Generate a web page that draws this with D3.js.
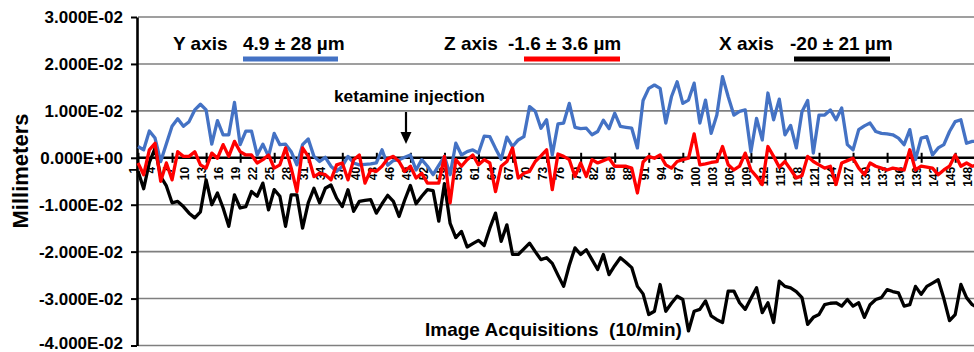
<!DOCTYPE html>
<html>
<head>
<meta charset="utf-8">
<script src="https://cdn.jsdelivr.net/npm/d3@7"></script>
<style>
  body { margin: 0; background: #fff; }
  svg { display: block; font-family: 'Liberation Sans', Arial, sans-serif; }
</style>
</head>
<body>
<div id="chart"></div>
<script>
const WIDTH = 974;
const HEIGHT = 352;

// image acquisitions, 1..150 (10/min)
const categories = d3.range(1, 151);
const yTicks = [-0.04, -0.03, -0.02, -0.01, 0, 0.01, 0.02, 0.03];

// drift per acquisition in micrometres
const yAxisUm = [
  2.4, 1.7, 5.7, 4.2, -0.8, 3.0, 6.7, 8.3, 6.7, 7.7,
  10.2, 11.4, 10.2, 2.9, 7.9, 4.9, 4.9, 11.8, 2.8, 5.7,
  5.7, 0.6, 2.9, 0.3, 5.2, 2.8, 2.9, 1.3, -1.5, 2.8,
  4.0, 0.3, -0.8, 0.1, -1.8, -2.9, -1.8, 0.3, -1.1, -1.5,
  -1.4, -1.3, -1.1, 1.7, -1.6, -0.6, -0.4, 0.1, 0.6, -2.6,
  -0.4, -1.8, -3.6, -1.6, 0.3, -3.6, 3.1, 0.6, 1.3, 1.7,
  1.0, 4.6, 4.5, 2.0, -0.3, 4.4, 2.4, 3.8, 4.5, 10.9,
  9.9, 6.3, 8.1, 0.6, 7.2, 7.4, 11.6, 6.5, 6.2, 6.3,
  4.9, 5.6, 8.0, 6.2, 9.5, 6.7, 6.5, 6.3, 2.1, 12.2,
  14.8, 15.5, 14.8, 7.4, 13.0, 16.2, 11.6, 12.3, 15.9, 7.4,
  12.3, 5.2, 9.1, 17.3, 13.0, 9.1, 9.9, 10.2, 1.3, 8.4,
  3.8, 13.8, 8.1, 12.5, 4.9, 6.9, 2.1, 9.8, 12.2, 1.0,
  9.1, 9.1, 10.2, 8.1, 10.6, 2.8, 1.7, 6.0, 6.8, 7.4,
  5.6, 5.2, 5.1, 4.9, 4.2, 2.8, 6.0, -0.4, 4.2, 4.5,
  0.6, 2.1, 2.8, 5.6, 7.7, 8.1, 3.1, 3.5, 3.5, 3.4
];
const zAxisUm = [
  -1.1, -3.6, 1.7, 3.1, -5.0, -1.1, -4.7, 1.3, 0.3, 0.3,
  1.3, -1.5, -2.2, 1.0, -0.1, 2.8, 0.3, 3.5, 1.3, 0.6,
  0.6, -1.1, -0.4, 0.6, -2.2, -1.5, 2.1, -2.2, -7.2, 2.1,
  0.3, -4.0, -3.3, -3.6, -4.7, -1.5, -1.1, -4.7, -0.4, 0.6,
  -5.4, -2.6, -2.9, -1.8, -0.2, 0.3, -0.8, -2.9, -1.8, -4.3,
  -3.3, -5.4, -5.4, -5.4, 0.3, -9.6, -0.4, -1.8, -0.4, 0.6,
  -1.5, -0.4, -1.1, -7.2, -1.8, -0.8, 2.1, -4.3, -3.3, -2.9,
  -0.8, 0.4, 1.7, -6.8, 0.8, 0.3, -0.4, -4.0, -1.1, -4.0,
  -0.4, -1.1, -0.6, -0.1, -1.8, -1.8, -1.8, -2.2, -7.5, -0.9,
  0.3, -0.1, 0.6, -1.5, -2.2, -0.8, -0.4, -0.1, 5.1, -1.5,
  -1.3, -1.0, -0.8, 2.4, -1.5, -2.6, -1.8, 1.0, -2.6, -4.0,
  -5.7, 2.4, 0.3, -2.0, -0.8, -2.5, -4.3, -3.8, 0.3, -0.8,
  -1.5, -2.2, -1.8, -5.7, -1.1, -0.6, -0.1, -2.2, -3.6, -1.1,
  -1.8, -2.2, -2.6, -2.2, -2.4, -2.6, 1.7, -2.6, -1.8, -2.0,
  -2.2, -3.6, -2.6, -1.8, 0.6, -1.8, -1.1, -1.8, -1.5, -1.5
];
const xAxisUm = [
  -2.8, -6.6, -1.0, 2.0, -4.0, -6.0, -9.6, -9.3, -10.4, -11.8,
  -12.8, -11.5, -4.7, -10.0, -7.5, -10.7, -14.6, -7.9, -10.7, -10.4,
  -7.2, -8.2, -5.4, -11.1, -6.8, -8.2, -14.6, -7.9, -7.9, -15.0,
  -9.6, -6.5, -9.6, -6.5, -5.8, -8.6, -10.4, -6.8, -11.4, -9.3,
  -9.1, -8.9, -11.8, -9.8, -8.0, -9.3, -12.5, -9.0, -5.9, -9.8,
  -8.2, -6.8, -7.0, -13.5, -5.5, -14.0, -17.0, -15.7, -19.0, -18.3,
  -17.6, -18.7, -15.0, -11.8, -17.8, -14.3, -20.6, -20.6, -19.4, -18.2,
  -20.0, -21.7, -21.3, -22.5, -25.0, -27.4, -22.9, -19.2, -20.6, -19.6,
  -21.7, -23.8, -20.6, -24.9, -23.0, -21.3, -22.3, -23.4, -27.4, -29.0,
  -33.4, -32.7, -27.0, -32.7, -31.0, -29.5, -30.2, -36.9, -32.7, -32.3,
  -30.5, -33.7, -34.5, -35.1, -28.4, -28.4, -30.9, -32.3, -30.0, -27.7,
  -33.0, -30.9, -35.1, -26.3, -27.4, -27.7, -28.5, -29.8, -35.5, -34.0,
  -33.4, -31.3, -31.0, -30.9, -31.6, -30.2, -31.6, -30.9, -34.0, -31.3,
  -30.2, -29.8, -28.1, -28.5, -28.8, -31.6, -31.3, -27.4, -29.1, -27.4,
  -26.7, -26.0, -30.0, -34.7, -33.4, -27.0, -29.8, -31.3, -32.0, -32.0
];

const series = [
  { name: 'Y axis', stat: '4.9 \u00b1 28 \u00b5m', values: yAxisUm, color: '#4472c4', labelX: 173, statX: 243, keyX: [243, 338] },
  { name: 'X axis', stat: '-20 \u00b1 21 \u00b5m', values: xAxisUm, color: '#000000', labelX: 719, statX: 790, keyX: [794, 890] },
  { name: 'Z axis', stat: '-1.6 \u00b1 3.6 \u00b5m', values: zAxisUm, color: '#ff0000', labelX: 444, statX: 508, keyX: [524, 620] },
];

const x = d3.scaleLinear().domain([1, 150]).range([138, 138 + 149 * 5.675]);
const y = d3.scaleLinear().domain([-0.04, 0.03]).range([345.5, 17]);

const svg = d3.select('#chart').append('svg').attr('width', WIDTH).attr('height', HEIGHT);
svg.append('rect').attr('width', WIDTH).attr('height', HEIGHT).attr('fill', '#fff');

function addGrid(base) {
  base.append('g').attr('class', 'grid')
    .selectAll('line')
    .data(yTicks.filter((d) => d !== 0))
    .enter()
    .append('line')
    .attr('x1', x(1))
    .attr('x2', WIDTH)
    .attr('y1', (d) => y(d))
    .attr('y2', (d) => y(d))
    .attr('stroke', '#7f7f7f')
    .attr('stroke-width', 1.6);
}

function addAxes(base) {
  // category labels, every third, rotated
  base.append('g').attr('class', 'x-labels')
    .selectAll('text')
    .data(categories.filter((d) => (d - 1) % 3 === 0))
    .enter()
    .append('text')
    .attr('transform', (d) => `translate(${x(d) - 4},${y(0) + 9}) rotate(-90)`)
    .attr('text-anchor', 'end')
    .attr('dy', '0.35em')
    .attr('font-size', 12)
    .attr('font-weight', 'bold')
    .text((d) => d);

  // zero line doubles as the category axis
  const xAxis = d3.axisBottom(x)
    .tickValues(categories.filter((d) => (d - 1) % 6 === 0))
    .tickSize(5)
    .tickSizeOuter(0)
    .tickFormat('');
  const gx = base.append('g').attr('transform', `translate(0,${y(0)})`).call(xAxis);
  gx.select('.domain').attr('d', `M${x(1)},0H${WIDTH}`).attr('stroke', '#000').attr('stroke-width', 2.6);
  gx.selectAll('.tick line').attr('y1', -5).attr('y2', 5).attr('stroke', '#000').attr('stroke-width', 2);

  const yAxis = d3.axisLeft(y)
    .tickValues(yTicks)
    .tickSize(6)
    .tickSizeOuter(0)
    .tickPadding(8)
    .tickFormat((d) => {
      const [m, e] = d.toExponential(3).toUpperCase().split('E');
      const exp = +e;
      return `${m}E${exp < 0 ? '-' : '+'}${String(Math.abs(exp)).padStart(2, '0')}`;
    });
  const gy = base.append('g').attr('transform', `translate(137,0)`).call(yAxis);
  gy.select('.domain').attr('stroke', '#000').attr('stroke-width', 2.6);
  gy.selectAll('.tick line').attr('stroke', '#000').attr('stroke-width', 2);
  gy.selectAll('.tick text')
    .attr('font-family', "'Liberation Sans', Arial, sans-serif")
    .attr('font-size', 17)
    .attr('font-weight', 'bold')
    .attr('fill', '#000');
  // keep the bottom label inside the frame
  gy.selectAll('.tick text').filter((d) => d === -0.04).attr('dy', '0.2em');

  base.append('text')
    .attr('transform', 'translate(28,171) rotate(-90)')
    .attr('text-anchor', 'middle')
    .attr('font-size', 22)
    .attr('font-weight', 'bold')
    .text('Millimeters');

  base.append('text')
    .attr('x', 425)
    .attr('y', 336)
    .attr('font-size', 19)
    .attr('font-weight', 'bold')
    .style('white-space', 'pre')
    .text('Image Acquisitions  (10/min)');
}

function drawSeries(base) {
  const line = d3.line()
    .x((d, i) => x(categories[i]))
    .y((d) => y(d / 1000))
    .curve(d3.curveLinear);

  base.append('g').attr('class', 'series')
    .selectAll('path')
    .data(series)
    .enter()
    .append('path')
    .attr('d', (d) => line(d.values))
    .attr('fill', 'none')
    .attr('stroke', (d) => d.color)
    .attr('stroke-width', 3.3)
    .attr('stroke-linejoin', 'round');
}

function addLegend(base) {
  const legend = base.append('g').attr('class', 'legend')
    .attr('font-size', 19)
    .attr('font-weight', 'bold');

  legend.selectAll('text.name')
    .data(series)
    .enter()
    .append('text')
    .attr('class', 'name')
    .attr('x', (d) => d.labelX)
    .attr('y', 50)
    .text((d) => d.name);

  legend.selectAll('text.stat')
    .data(series)
    .enter()
    .append('text')
    .attr('class', 'stat')
    .attr('x', (d) => d.statX)
    .attr('y', 50)
    .text((d) => d.stat);

  legend.selectAll('line')
    .data(series)
    .enter()
    .append('line')
    .attr('x1', (d) => d.keyX[0])
    .attr('x2', (d) => d.keyX[1])
    .attr('y1', 59)
    .attr('y2', 59)
    .attr('stroke', (d) => d.color)
    .attr('stroke-width', 5);
}

function addAnnotation(base) {
  base.append('text')
    .attr('x', 334)
    .attr('y', 102)
    .attr('font-size', 17.3)
    .attr('font-weight', 'bold')
    .text('ketamine injection');

  base.append('line')
    .attr('x1', 406).attr('x2', 406)
    .attr('y1', 112).attr('y2', 134)
    .attr('stroke', '#000')
    .attr('stroke-width', 2.2);
  base.append('path')
    .attr('d', 'M400.5,132 L411.5,132 L406,144 Z')
    .attr('fill', '#000');
}

addGrid(svg);
addAxes(svg);
drawSeries(svg);
addLegend(svg);
addAnnotation(svg);
</script>
</body>
</html>
